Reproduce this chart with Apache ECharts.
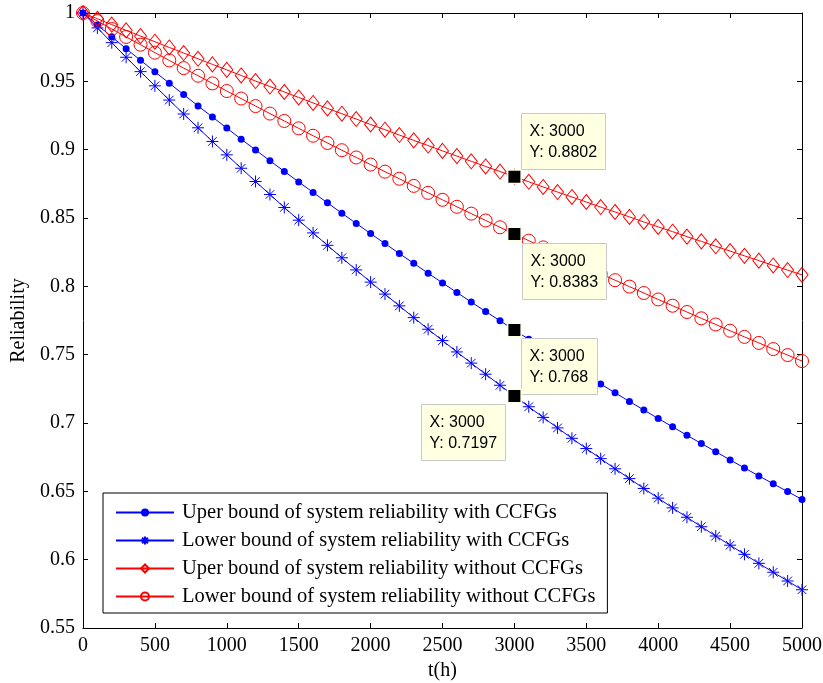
<!DOCTYPE html>
<html lang="en">
<head>
    <meta charset="UTF-8">
    <title>Reliability</title>
    <script src="https://cdn.jsdelivr.net/npm/echarts@6/dist/echarts.min.js"></script>
</head>
<body style="margin:0;background:#fff">
    <div id="container" style="width: 823px;height: 683px"></div>
    <script>
        // time points t(h), one marker every 100 h
        var hours = [0, 100, 200, 300, 400, 500, 600, 700, 800, 900, 1000,
            1100, 1200, 1300, 1400, 1500, 1600, 1700, 1800, 1900, 2000,
            2100, 2200, 2300, 2400, 2500, 2600, 2700, 2800, 2900, 3000,
            3100, 3200, 3300, 3400, 3500, 3600, 3700, 3800, 3900, 4000,
            4100, 4200, 4300, 4400, 4500, 4600, 4700, 4800, 4900, 5000];

        var upperWith = [1, 0.9912, 0.9826, 0.9739, 0.9654, 0.9570, 0.9486, 0.9403, 0.9320, 0.9239, 0.9158,
            0.9077, 0.8998, 0.8919, 0.8841, 0.8764, 0.8687, 0.8611, 0.8535, 0.8460, 0.8386,
            0.8313, 0.8240, 0.8168, 0.8096, 0.8025, 0.7955, 0.7885, 0.7816, 0.7748, 0.7680,
            0.7613, 0.7546, 0.7480, 0.7414, 0.7349, 0.7285, 0.7221, 0.7158, 0.7095, 0.7033,
            0.6972, 0.6910, 0.6850, 0.6790, 0.6730, 0.6671, 0.6613, 0.6555, 0.6498, 0.6441];

        var lowerWith = [1, 0.9891, 0.9783, 0.9676, 0.9571, 0.9467, 0.9363, 0.9261, 0.9160, 0.9060, 0.8962,
            0.8864, 0.8767, 0.8672, 0.8577, 0.8484, 0.8391, 0.8300, 0.8209, 0.8120, 0.8031,
            0.7943, 0.7857, 0.7771, 0.7686, 0.7603, 0.7520, 0.7438, 0.7357, 0.7276, 0.7197,
            0.7119, 0.7041, 0.6964, 0.6888, 0.6813, 0.6739, 0.6665, 0.6593, 0.6521, 0.6450,
            0.6379, 0.6310, 0.6241, 0.6173, 0.6106, 0.6039, 0.5973, 0.5908, 0.5844, 0.5780];

        var upperWithout = [1, 0.9958, 0.9915, 0.9873, 0.9831, 0.9790, 0.9748, 0.9707, 0.9665, 0.9624, 0.9584,
            0.9543, 0.9502, 0.9462, 0.9422, 0.9382, 0.9342, 0.9302, 0.9263, 0.9224, 0.9184,
            0.9146, 0.9107, 0.9068, 0.9030, 0.8991, 0.8953, 0.8915, 0.8877, 0.8840, 0.8802,
            0.8765, 0.8727, 0.8690, 0.8654, 0.8617, 0.8580, 0.8544, 0.8508, 0.8471, 0.8435,
            0.8400, 0.8364, 0.8329, 0.8293, 0.8258, 0.8223, 0.8188, 0.8153, 0.8119, 0.8084];

        var lowerWithout = [1, 0.9941, 0.9883, 0.9825, 0.9768, 0.9710, 0.9653, 0.9597, 0.9541, 0.9485, 0.9429,
            0.9374, 0.9319, 0.9264, 0.9210, 0.9156, 0.9102, 0.9049, 0.8996, 0.8943, 0.8891,
            0.8839, 0.8787, 0.8735, 0.8684, 0.8633, 0.8582, 0.8532, 0.8482, 0.8432, 0.8383,
            0.8334, 0.8285, 0.8236, 0.8188, 0.8140, 0.8092, 0.8045, 0.7998, 0.7951, 0.7904,
            0.7858, 0.7812, 0.7766, 0.7721, 0.7675, 0.7630, 0.7586, 0.7541, 0.7497, 0.7453];

        var seriesNames = [
            'Uper bound of system reliability with CCFGs',
            'Lower bound of system reliability with CCFGs',
            'Uper bound of system reliability without CCFGs',
            'Lower bound of system reliability without CCFGs'
        ];

        // data tips at t = 3000
        var tipX = 3000;
        var tipY = [0.8802, 0.8383, 0.768, 0.7197];
        var tipYText = ['0.8802', '0.8383', '0.768', '0.7197'];

        var serif = '"Liberation Serif", "Times New Roman", serif';
        var sans = '"Liberation Sans", Arial, sans-serif';
        var asterisk = 'path://M0,-1L0,1M-1,0L1,0M-0.72,-0.72L0.72,0.72M-0.72,0.72L0.72,-0.72';

        function pairs(ys) {
            return hours.map(function (t, i) { return [t, ys[i]]; });
        }

        var myChart = echarts.init(document.getElementById('container'));

        var axisCommon = {
            type: 'value',
            axisLine: { show: true, onZero: false, lineStyle: { color: '#000', width: 1 } },
            axisTick: { show: true, inside: true, length: 5, lineStyle: { color: '#000' } },
            splitLine: { show: false }
        };

        myChart.setOption({
            animation: false,
            backgroundColor: '#fff',
            grid: { left: 83, right: 21, top: 13, bottom: 55, outerBoundsMode: 'none' },
            xAxis: [
                Object.assign({}, axisCommon, {
                    min: 0, max: 5000, interval: 500, position: 'bottom',
                    axisLabel: {
                        color: '#000', fontFamily: serif, fontSize: 20, margin: 8,
                        formatter: function (v) { return String(v); }
                    },
                    name: 't(h)', nameLocation: 'middle', nameGap: 28,
                    nameTextStyle: { color: '#000', fontFamily: serif, fontSize: 20 }
                }),
                Object.assign({}, axisCommon, {
                    min: 0, max: 5000, interval: 500, position: 'top',
                    axisLabel: { show: false }
                })
            ],
            yAxis: [
                Object.assign({}, axisCommon, {
                    min: 0.55, max: 1, interval: 0.05, position: 'left',
                    axisLabel: { color: '#000', fontFamily: serif, fontSize: 20, margin: 8 },
                    name: 'Reliability', nameLocation: 'middle', nameGap: 52,
                    nameTextStyle: { color: '#000', fontFamily: serif, fontSize: 20 }
                }),
                Object.assign({}, axisCommon, {
                    min: 0.55, max: 1, interval: 0.05, position: 'right',
                    axisLabel: { show: false }
                })
            ],
            legend: {
                orient: 'vertical',
                left: 103, top: 493,
                padding: [9, 12, 6, 12],
                itemGap: 7,
                itemWidth: 58, itemHeight: 10,
                backgroundColor: '#fff',
                borderColor: '#000', borderWidth: 1,
                textStyle: { color: '#000', fontFamily: serif, fontSize: 20.5, lineHeight: 20, padding: [0, 0, 0, 3] },
                data: seriesNames
            },
            series: [
                {
                    name: seriesNames[0], type: 'line', data: pairs(upperWith),
                    symbol: 'circle', symbolSize: 7,
                    lineStyle: { color: '#0000ff', width: 1 },
                    itemStyle: { color: '#0000ff' }
                },
                {
                    name: seriesNames[1], type: 'line', data: pairs(lowerWith),
                    symbol: asterisk, symbolSize: 12,
                    lineStyle: { color: '#0000ff', width: 1 },
                    itemStyle: { color: 'none', borderColor: '#0000ff', borderWidth: 1 }
                },
                {
                    name: seriesNames[2], type: 'line', data: pairs(upperWithout),
                    symbol: 'diamond', symbolSize: [12, 15],
                    lineStyle: { color: '#ff0000', width: 1 },
                    itemStyle: { color: 'transparent', borderColor: '#ff0000', borderWidth: 1 }
                },
                {
                    name: seriesNames[3], type: 'line', data: pairs(lowerWithout),
                    symbol: 'circle', symbolSize: 13,
                    lineStyle: { color: '#ff0000', width: 1 },
                    itemStyle: { color: 'transparent', borderColor: '#ff0000', borderWidth: 1 }
                }
            ]
        });

        // data tip boxes: offset of box from the tip point, and box size
        var tipLayout = [
            { dx: 7, dy: -64, w: 84, h: 56 },
            { dx: 8, dy: 9, w: 84, h: 56 },
            { dx: 7, dy: 8, w: 76, h: 56 },
            { dx: -93, dy: 8, w: 84, h: 56 }
        ];

        var graphics = [];
        tipY.forEach(function (y, i) {
            var p = myChart.convertToPixel({ xAxisIndex: 0, yAxisIndex: 0 }, [tipX, y]);
            var L = tipLayout[i];
            var bx = Math.round(p[0] + L.dx) + 0.5, by = Math.round(p[1] + L.dy) + 0.5;
            graphics.push({
                type: 'rect', z: 100,
                shape: { x: bx, y: by, width: L.w, height: L.h },
                style: { fill: '#ffffe1', stroke: '#c8c8c8', lineWidth: 1 }
            });
            graphics.push({
                type: 'text', z: 101, x: bx + 8, y: by + 18,
                style: { text: 'X: ' + tipX, font: '16px ' + sans, fill: '#000', verticalAlign: 'middle' }
            });
            graphics.push({
                type: 'text', z: 101, x: bx + 8, y: by + 39,
                style: { text: 'Y: ' + tipYText[i], font: '16px ' + sans, fill: '#000', verticalAlign: 'middle' }
            });
            graphics.push({
                type: 'rect', z: 102,
                shape: { x: p[0] - 6.75, y: p[1] - 6.75, width: 13.5, height: 13.5 },
                style: { fill: '#000', stroke: '#ffffe1', lineWidth: 1.5 }
            });
        });
        myChart.setOption({ graphic: graphics });
    </script>
</body>
</html>
